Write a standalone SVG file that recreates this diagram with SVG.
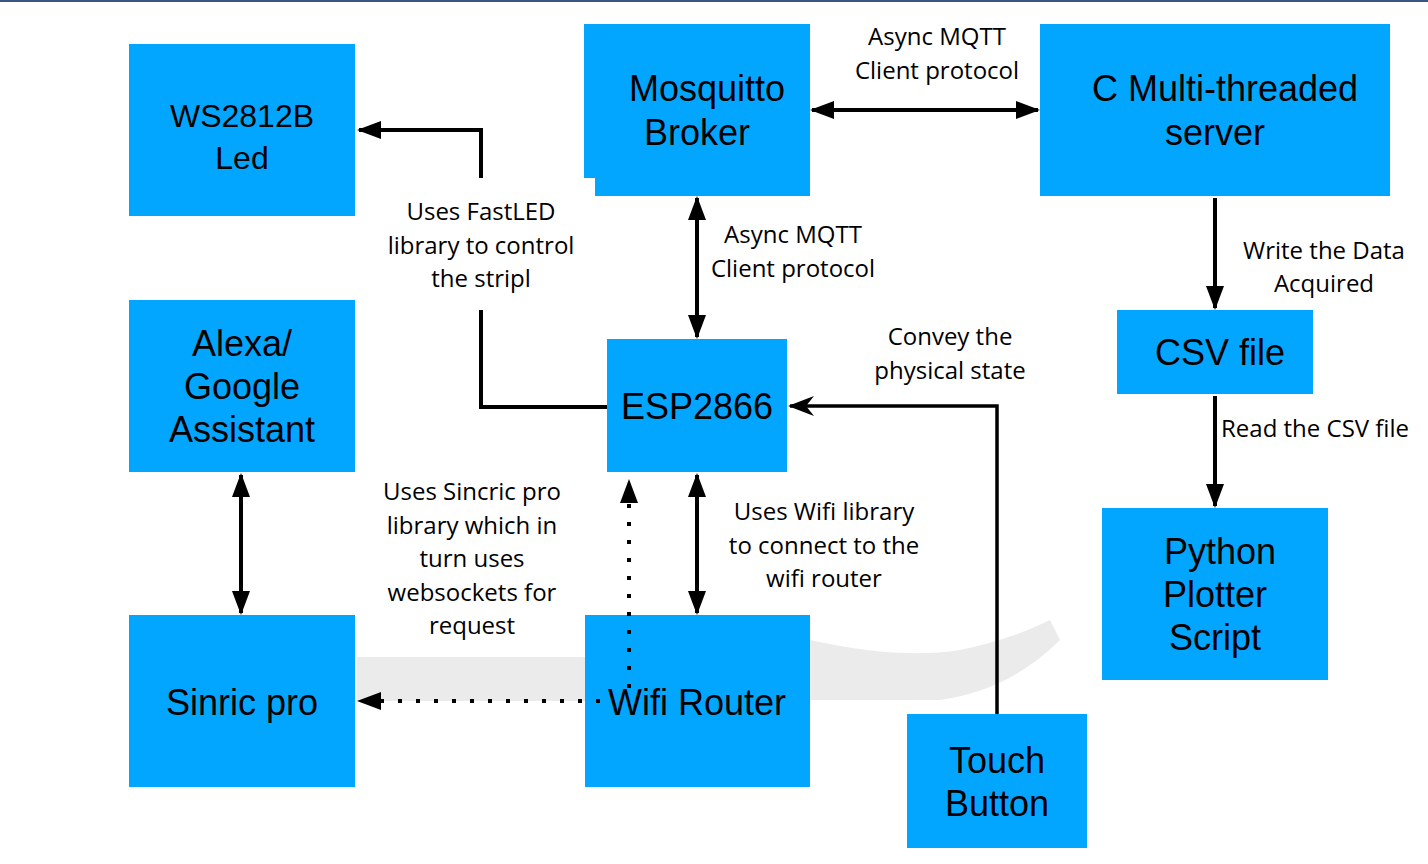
<svg xmlns="http://www.w3.org/2000/svg" width="1428" height="864" viewBox="0 0 1428 864">
<style>
.box{fill:#02a6fe;}
.bt{font-family:"Liberation Sans",Arial,sans-serif;font-size:36px;fill:#000;text-anchor:middle;}
.lb{font-family:"Open Sans","Noto Sans",sans-serif;font-size:24px;fill:#000;text-anchor:middle;}
.ln{stroke:#000;stroke-width:4;fill:none;}
.dot{stroke:#000;stroke-width:4;fill:none;stroke-dasharray:4 14;}
</style>
<defs>
<marker id="ah" markerUnits="userSpaceOnUse" markerWidth="24" markerHeight="20" refX="22" refY="9" orient="auto-start-reverse" viewBox="0 0 24 18">
<path d="M0,0 L24,9 L0,18 Z" fill="#000"/>
</marker>
<marker id="ah2" markerUnits="userSpaceOnUse" markerWidth="26" markerHeight="22" refX="24" refY="10" orient="auto" viewBox="0 0 26 20">
<path d="M0,0 L26,10 L0,20 L8,10 Z" fill="#000"/>
</marker>
</defs>
<rect x="0" y="0" width="1428" height="864" fill="#fff"/>
<rect x="0" y="0" width="1428" height="2" fill="#3d5487"/>
<g id="watermark" fill="#ebebeb">
<rect x="357" y="657" width="230" height="44"/>
<path d="M810,640 Q900,660 960,650 Q1010,640 1050,620 L1060,640 Q1010,690 940,700 H810 Z"/>
</g>
<g id="ws2812b">
<rect class="box" x="129" y="44" width="226" height="172"/>
<text class="bt" x="242" y="127" style="font-size:32px">WS2812B</text>
<text class="bt" x="242" y="169" style="font-size:32px">Led</text>
</g>
<g id="mosquitto">
<path class="box" d="M584,24 H810 V196 H595 V178 H584 Z"/>
<text class="bt" x="707" y="101">Mosquitto</text>
<text class="bt" x="697" y="145">Broker</text>
</g>
<g id="cserver">
<rect class="box" x="1040" y="24" width="350" height="172"/>
<text class="bt" x="1225" y="101">C Multi-threaded</text>
<text class="bt" x="1215" y="145">server</text>
</g>
<g id="alexa">
<rect class="box" x="129" y="300" width="226" height="172"/>
<text class="bt" x="242" y="356">Alexa/</text>
<text class="bt" x="242" y="399">Google</text>
<text class="bt" x="242" y="442">Assistant</text>
</g>
<g id="esp">
<rect class="box" x="607" y="339" width="180" height="133"/>
<text class="bt" x="697" y="419">ESP2866</text>
</g>
<g id="csv">
<rect class="box" x="1117" y="310" width="196" height="84"/>
<text class="bt" x="1220" y="365">CSV file</text>
</g>
<g id="python">
<rect class="box" x="1102" y="508" width="226" height="172"/>
<text class="bt" x="1220" y="564">Python</text>
<text class="bt" x="1215" y="607">Plotter</text>
<text class="bt" x="1215" y="650">Script</text>
</g>
<g id="sinric">
<rect class="box" x="129" y="615" width="226" height="172"/>
<text class="bt" x="242" y="715">Sinric pro</text>
</g>
<g id="wifi">
<rect class="box" x="585" y="615" width="225" height="172"/>
<text class="bt" x="697" y="715">Wifi Router</text>
</g>
<g id="touch">
<rect class="box" x="907" y="714" width="180" height="134"/>
<text class="bt" x="997" y="773">Touch</text>
<text class="bt" x="997" y="816">Button</text>
</g>
<g id="connectors">
<path class="ln" d="M607,407 H481 V310"/>
<path class="ln" d="M481,178 V130 H359" marker-end="url(#ah)"/>
<path class="ln" d="M812,110 H1038" marker-start="url(#ah)" marker-end="url(#ah)"/>
<path class="ln" d="M697,198 V337" marker-start="url(#ah)" marker-end="url(#ah)"/>
<path class="ln" d="M1215,198 V308" marker-end="url(#ah)"/>
<path class="ln" d="M1215,396 V506" marker-end="url(#ah)"/>
<path class="ln" d="M241,475 V613" marker-start="url(#ah)" marker-end="url(#ah)"/>
<path class="ln" d="M697,475 V613" marker-start="url(#ah)" marker-end="url(#ah)"/>
<path class="ln" d="M997,714 V406 H790" marker-end="url(#ah2)" style="stroke-width:3.5"/>
<path class="dot" d="M600,701 H359" marker-end="url(#ah)"/>
<path class="dot" d="M629,688 V481" marker-end="url(#ah)"/>
</g>
<g id="labels">
<text class="lb" x="937" y="45">Async MQTT</text>
<text class="lb" x="937" y="79">Client protocol</text>
<text class="lb" x="481" y="220">Uses FastLED</text>
<text class="lb" x="481" y="254">library to control</text>
<text class="lb" x="481" y="287">the stripl</text>
<text class="lb" x="793" y="243">Async MQTT</text>
<text class="lb" x="793" y="277">Client protocol</text>
<text class="lb" x="1324" y="259">Write the Data</text>
<text class="lb" x="1324" y="292">Acquired</text>
<text class="lb" x="950" y="345">Convey the</text>
<text class="lb" x="950" y="379">physical state</text>
<text class="lb" x="1221" y="437" style="text-anchor:start">Read the CSV file</text>
<text class="lb" x="472" y="500">Uses Sincric pro</text>
<text class="lb" x="472" y="534">library which in</text>
<text class="lb" x="472" y="567">turn uses</text>
<text class="lb" x="472" y="601">websockets for</text>
<text class="lb" x="472" y="634">request</text>
<text class="lb" x="824" y="520">Uses Wifi library</text>
<text class="lb" x="824" y="554">to connect to the</text>
<text class="lb" x="824" y="587">wifi router</text>
</g>
</svg>
